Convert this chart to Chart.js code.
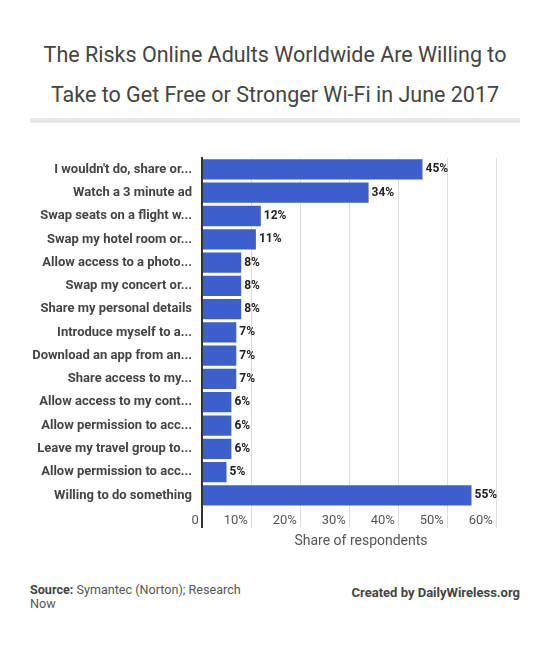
<!DOCTYPE html>
<html>
<head>
<meta charset="utf-8">
<script src="https://cdn.jsdelivr.net/npm/chart.js@4"></script>
<style>
  body { margin: 0; background: #fff; font-family: Roboto, sans-serif; }
  #page { position: relative; width: 550px; height: 671px; overflow: hidden; }
  #title { position: absolute; top: 35px; left: 0; width: 550px; text-align: center;
           font-size: 21.5px; line-height: 40px; color: #444; }
  #rule { position: absolute; top: 118px; left: 30px; width: 490px; height: 5px; background: #e8e8e8; }
  #chartBox { position: absolute; top: 140px; left: 0; width: 550px; height: 420px; }
  #axisTitle { position: absolute; top: 532px; left: 261px; width: 200px; text-align: center;
               font-size: 14px; color: #555; }
  #source { position: absolute; top: 583px; left: 30px; width: 215px; font-size: 12.6px;
            line-height: 14px; color: #555; }
  #source b { color: #444; }
  #credit { position: absolute; top: 585px; right: 30px; font-size: 13px; font-weight: bold; color: #444; }
</style>
</head>
<body>
<div id="page">
  <div id="title">The Risks Online Adults Worldwide Are Willing to<br>Take to Get Free or Stronger Wi-Fi in June 2017</div>
  <div id="rule"></div>
  <div id="chartBox"><canvas id="chart"></canvas></div>
  <div id="axisTitle">Share of respondents</div>
  <div id="source"><b>Source:</b> Symantec (Norton); Research Now</div>
  <div id="credit">Created by DailyWireless.org</div>
</div>
<script>
const categories = [
  "I wouldn't do, share or...",
  'Watch a 3 minute ad',
  'Swap seats on a flight w...',
  'Swap my hotel room or...',
  'Allow access to a photo...',
  'Swap my concert or...',
  'Share my personal details',
  'Introduce myself to a...',
  'Download an app from an...',
  'Share access to my...',
  'Allow access to my cont...',
  'Allow permission to acc...',
  'Leave my travel group to...',
  'Allow permission to acc...',
  'Willing to do something'
];
const shares = [45, 34, 12, 11, 8, 8, 8, 7, 7, 7, 6, 6, 6, 5, 55];
const tickLabels = ['0', '10%', '20%', '30%', '40%', '50%', '60%'];

// value labels at the end of each bar
const barLabels = {
  id: 'barLabels',
  afterDatasetsDraw(chart) {
    const ctx = chart.ctx;
    const meta = chart.getDatasetMeta(0);
    ctx.save();
    ctx.font = 'bold 12px Roboto';
    ctx.fillStyle = '#222';
    ctx.textAlign = 'left';
    ctx.textBaseline = 'middle';
    meta.data.forEach((bar, i) => {
      ctx.fillText(shares[i] + '%', bar.x + 3, bar.y);
    });
    ctx.restore();
  }
};

const ctx = document.getElementById('chart').getContext('2d');
new Chart(ctx, {
  type: 'bar',
  data: {
    labels: categories,
    datasets: [{
      data: shares,
      backgroundColor: '#3d5fcc',
      barPercentage: 0.87,
      categoryPercentage: 1
    }]
  },
  options: {
    indexAxis: 'y',
    responsive: true,
    maintainAspectRatio: false,
    animation: false,
    layout: { padding: { top: 15, right: 54, bottom: 0, left: 0 } },
    plugins: { legend: { display: false }, tooltip: { enabled: false } },
    scales: {
      x: {
        min: 0,
        max: 60,
        ticks: {
          stepSize: 10,
          align: 'end',
          padding: -15,
          color: '#555',
          font: { family: 'Roboto', size: 13 },
          callback: (v, i) => tickLabels[i] + ' '
        },
        grid: {
          color: c => c.tick && c.tick.value === 0 ? '#333' : '#ddd',
          lineWidth: c => c.tick && c.tick.value === 0 ? 2 : 1,
          tickLength: 21
        },
        border: { display: false },
        afterFit: s => { s.height = 53; }
      },
      y: {
        ticks: {
          padding: 10,
          color: '#444',
          font: { family: 'Roboto', size: 13, weight: 'bold' }
        },
        grid: { display: false, drawTicks: false },
        border: { color: '#333', width: 2 },
        afterFit: s => { s.width = 202; }
      }
    }
  },
  plugins: [barLabels]
});
</script>
</body>
</html>
